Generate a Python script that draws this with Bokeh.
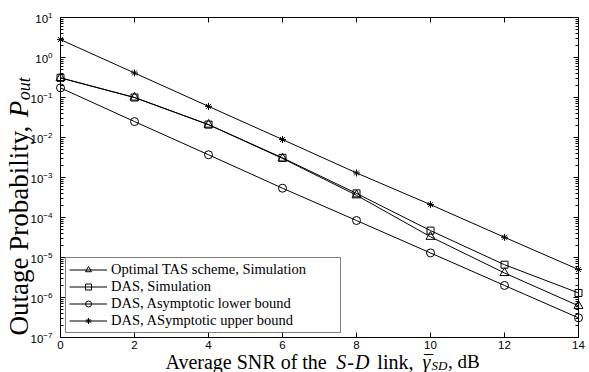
import math
from bokeh.plotting import figure
from bokeh.models import (Range1d, FixedTicker, LinearAxis, LogAxis, Legend, LegendItem,
                          Label)
from bokeh.embed import file_html
from bokeh.resources import INLINE

# ---------------- data ----------------
snr_db = [0, 2, 4, 6, 8, 10, 12, 14]
tas_sim = [0.31, 0.10, 0.021, 3.0e-3, 3.6e-4, 3.3e-5, 4.1e-6, 6.2e-7]
das_sim = [0.31, 0.10, 0.021, 3.1e-3, 4.0e-4, 4.7e-5, 6.6e-6, 1.3e-6]
das_lower = [0.174, 0.025, 3.7e-3, 5.4e-4, 8.4e-5, 1.3e-5, 2.0e-6, 3.1e-7]
das_upper = [2.8, 0.41, 0.060, 8.9e-3, 1.3e-3, 2.1e-4, 3.2e-5, 5.0e-6]

x_ticks = [0, 2, 4, 6, 8, 10, 12, 14]
y_decades = [-7, -6, -5, -4, -3, -2, -1, 0, 1]

legend_labels = [
    "Optimal TAS scheme, Simulation",
    "DAS, Simulation",
    "DAS, Asymptotic lower bound",
    "DAS, ASymptotic upper bound",
]

# ---------------- geometry (pixels) ----------------
W, H = 589, 372
PL, PR, PT, PB = 60, 578, 17, 337          # plot box inside the canvas
x_lo, x_hi = x_ticks[0], x_ticks[-1]
d_lo, d_hi = y_decades[0], y_decades[-1]
ppx = (PR - PL) / (x_hi - x_lo)
ppd = (PB - PT) / (d_hi - d_lo)
xr = Range1d(x_lo - PL / ppx, x_hi + (W - PR) / ppx)
yr = Range1d(10 ** (d_lo - (H - PB) / ppd), 10 ** (d_hi + PT / ppd))

p = figure(width=W, height=H, x_range=xr, y_range=yr,
           y_axis_type="log", output_backend="svg", toolbar_location=None,
           min_border=0)
p.background_fill_color = "white"
p.border_fill_color = "white"
p.outline_line_color = None
p.xgrid.visible = False
p.ygrid.visible = False

x_ticker = FixedTicker(ticks=x_ticks, minor_ticks=[])
y_ticker = FixedTicker(ticks=[10.0 ** k for k in y_decades],
                       minor_ticks=[m * 10.0 ** k for k in y_decades[:-1] for m in range(2, 10)])


def style_axis(ax, labels=True):
    ax.axis_line_color = "black"
    ax.axis_line_width = 1
    ax.major_tick_line_color = "black"
    ax.minor_tick_line_color = "black"
    ax.major_tick_in = 5
    ax.major_tick_out = 0
    ax.minor_tick_in = 3
    ax.minor_tick_out = 0
    ax.major_label_text_font = "Liberation Sans"
    ax.major_label_text_font_size = "11.5px"
    ax.major_label_text_color = "black" if labels else None


xa = p.xaxis[0]
xa.ticker = x_ticker
xa.fixed_location = 10 ** d_lo
xa.bounds = (x_lo, x_hi)
style_axis(xa)
xa.major_label_standoff = 3

ya = p.yaxis[0]
ya.ticker = y_ticker
ya.fixed_location = x_lo
ya.bounds = (10.0 ** d_lo, 10.0 ** d_hi)
style_axis(ya)
ya.major_label_standoff = 8

top_ax = LinearAxis(ticker=x_ticker, fixed_location=10 ** d_hi, bounds=(x_lo, x_hi))
style_axis(top_ax, labels=False)
p.add_layout(top_ax, "above")

right_ax = LogAxis(ticker=y_ticker, fixed_location=x_hi,
                   bounds=(10.0 ** d_lo, 10.0 ** d_hi))
style_axis(right_ax, labels=False)
p.add_layout(right_ax, "right")

# ---------------- series ----------------
series = [
    (tas_sim, "triangle", 9),
    (das_sim, "square", 7),
    (das_lower, "circle", 8),
    (das_upper, "asterisk", 7),
]
items = []
for (vals, marker, size), lab in zip(series, legend_labels):
    ln = p.line(snr_db, vals, line_color="black", line_width=1)
    sc = p.scatter(snr_db, vals, marker=marker, size=size,
                   line_color="black", fill_color=None, line_width=1)
    items.append(LegendItem(label=lab, renderers=[ln, sc]))

legend = Legend(items=items, location=(65, H - 333))
legend.label_text_font = "Liberation Serif"
legend.label_text_font_size = "14.5px"
legend.label_text_line_height = 1.0
legend.label_text_color = "black"
legend.border_line_color = "black"
legend.border_line_width = 1
legend.background_fill_color = "white"
legend.background_fill_alpha = 1
legend.padding = 3
legend.spacing = 0
legend.margin = 0
legend.glyph_width = 38
legend.glyph_height = 15
legend.label_height = 15
legend.label_standoff = 4
legend.label_width = 226
p.add_layout(legend)

# ---------------- composite axis titles ----------------
REG = {' ': 250, ',': 250, '-': 333, 'A': 722, 'B': 667, 'D': 722, 'N': 722, 'O': 722,
       'P': 556, 'R': 667, 'S': 556, 'T': 611, 'a': 444, 'b': 500, 'c': 444, 'd': 500,
       'e': 444, 'f': 333, 'g': 500, 'h': 500, 'i': 278, 'k': 500, 'l': 278, 'm': 778,
       'n': 500, 'o': 500, 'p': 500, 'r': 333, 's': 389, 't': 278, 'u': 500, 'v': 500,
       'y': 500}
ITA = {'S': 500, 'D': 722, 'P': 611, 'o': 500, 'u': 500, 't': 278, 'γ': 430}


def tw(s, italic, size):
    tab = ITA if italic else REG
    return sum(tab.get(c, 500) for c in s) / 1000.0 * size


def add_label(text, x, y, size, italic=False, angle=0.0):
    # x from the canvas left, y from the canvas bottom (frame == canvas here)
    p.add_layout(Label(x=x, y=y, x_units="screen", y_units="screen", text=text,
                       text_font="Liberation Serif",
                       text_font_style="italic" if italic else "normal",
                       text_font_size=f"{size}px", text_color="black",
                       text_align="left", text_baseline="alphabetic", angle=angle))


# x title: Average SNR of the S-D link, overline(gamma)_SD, dB
fx = 20
fs = 13
bx = H - 365 + 4
cx = 165.0
add_label("Average SNR of the", cx, bx, fx)
cx += tw("Average SNR of the", False, fx) + tw(" ", False, fx) + 3
add_label("S", cx, bx, fx, italic=True)
cx += tw("S", True, fx) + 1
add_label("-", cx, bx, fx)
cx += tw("-", False, fx) + 1
add_label("D", cx, bx, fx, italic=True)
cx += tw("D", True, fx) + tw(" ", False, fx) + 3
add_label("link,", cx, bx, fx)
cx += tw("link,", False, fx) + tw(" ", False, fx) + 4
gx = cx
add_label("γ", cx, bx, fx, italic=True)
add_label("–", gx + 1.5, bx + 9, 18)
cx += tw("γ", True, fx) + 0.5
add_label("SD", cx, bx - 3.5, fs, italic=True)
cx += tw("SD", True, fs) + 0.5
add_label(", dB", cx, bx, 19)

# y title: Outage Probability, P_out (rotated)
fy = 27
by = 18
cy = H - 335.0
ang = math.pi / 2
add_label("Outage Probability,", by, cy, fy, angle=ang)
cy += tw("Outage Probability, ", False, fy)
add_label("P", by, cy, fy, italic=True, angle=ang)
cy += tw("P", True, fy) + 0.5
add_label("out", by + 5, cy, 18, italic=True, angle=ang)

open("out.html", "w").write(file_html(p, INLINE))
